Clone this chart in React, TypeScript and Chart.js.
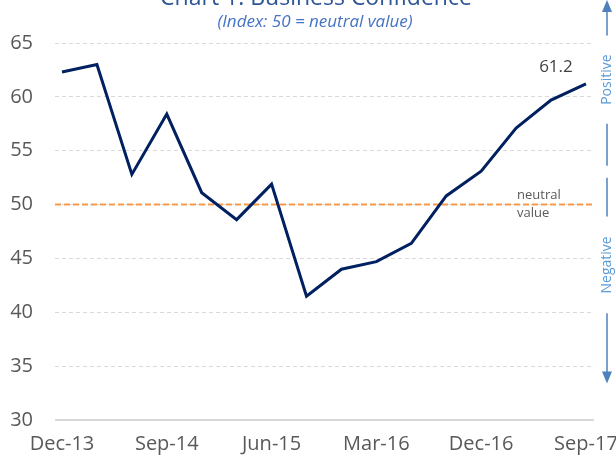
import React, { useEffect, useRef } from "react";
import { Chart, registerables } from "chart.js";

Chart.register(...registerables);

const categories = ["Dec-13", "Mar-14", "Jun-14", "Sep-14", "Dec-14", "Mar-15", "Jun-15", "Sep-15", "Dec-15", "Mar-16", "Jun-16", "Sep-16", "Dec-16", "Mar-17", "Jun-17", "Sep-17"];
const confidence = [62.3, 63.0, 52.8, 58.4, 51.1, 48.6, 51.9, 41.5, 44.0, 44.7, 46.4, 50.8, 53.1, 57.1, 59.7, 61.2];
const xTickIndexes = [0, 3, 6, 9, 12, 15];
const yTicks = [30, 35, 40, 45, 50, 55, 60, 65];
const neutralValue = 50;
const titleText = "Chart 1: Business Confidence";
const subtitleText = "(Index: 50 = neutral value)";

const FONT = "'Open Sans', 'Noto Sans', sans-serif";

const decorPlugin = {
  id: "decor",
  beforeDatasetsDraw(chart: any) {
    const { ctx, chartArea, scales } = chart;
    const ys = scales.y;
    ctx.save();
    const by = ys.getPixelForValue(ys.min);
    ctx.strokeStyle = "#D9D9D9";
    ctx.lineWidth = 2;
    ctx.beginPath();
    ctx.moveTo(chartArea.left, by);
    ctx.lineTo(chartArea.right, by);
    ctx.stroke();
    const y = ys.getPixelForValue(neutralValue);
    ctx.strokeStyle = "#F59A4A";
    ctx.lineWidth = 2;
    ctx.setLineDash([6, 3]);
    ctx.beginPath();
    ctx.moveTo(chartArea.left, y);
    ctx.lineTo(chartArea.right, y);
    ctx.stroke();
    ctx.restore();
  },
  afterDraw(chart: any) {
    const { ctx, chartArea, scales } = chart;
    const xs = scales.x;
    const ys = scales.y;
    ctx.save();
    ctx.fillStyle = "#2F5597";
    ctx.textAlign = "center";
    ctx.textBaseline = "alphabetic";
    ctx.font = `23px ${FONT}`;
    ctx.fillText(titleText, 316, 5);
    ctx.font = `italic 17px ${FONT}`;
    ctx.fillStyle = "#4472C4";
    ctx.textBaseline = "middle";
    ctx.fillText(subtitleText, 315, 22);

    const ny = ys.getPixelForValue(neutralValue);
    const nx = xs.getPixelForValue(13) + 1;
    ctx.fillStyle = "#595959";
    ctx.font = `13px ${FONT}`;
    ctx.textAlign = "left";
    ctx.fillText("neutral", nx, ny - 9);
    ctx.fillText("value", nx, ny + 9);

    const last = confidence.length - 1;
    const lx = xs.getPixelForValue(last);
    const ly = ys.getPixelForValue(confidence[last]);
    ctx.fillStyle = "#404040";
    ctx.font = `17px ${FONT}`;
    ctx.textAlign = "center";
    ctx.fillText(confidence[last].toFixed(1), lx - 30, ly - 17);

    const ax = chartArea.right + 13;
    ctx.strokeStyle = "#4F81BD";
    ctx.fillStyle = "#4F81BD";
    ctx.lineWidth = 1.5;
    ctx.setLineDash([]);
    const upTop = 0;
    const upBottom = ys.getPixelForValue(53.6);
    const posTextTop = ys.getPixelForValue(65.7);
    const posTextBottom = ys.getPixelForValue(57.5);
    ctx.beginPath();
    ctx.moveTo(ax, upTop + 11);
    ctx.lineTo(ax, posTextTop);
    ctx.moveTo(ax, posTextBottom);
    ctx.lineTo(ax, upBottom);
    ctx.stroke();
    ctx.beginPath();
    ctx.moveTo(ax, upTop);
    ctx.lineTo(ax - 5, upTop + 12);
    ctx.lineTo(ax + 5, upTop + 12);
    ctx.closePath();
    ctx.fill();

    const dnTop = ys.getPixelForValue(52.5);
    const dnBottom = ys.getPixelForValue(33.4);
    const negTextTop = ys.getPixelForValue(48.9);
    const negTextBottom = ys.getPixelForValue(39.9);
    ctx.beginPath();
    ctx.moveTo(ax, dnTop);
    ctx.lineTo(ax, negTextTop);
    ctx.moveTo(ax, negTextBottom);
    ctx.lineTo(ax, dnBottom - 11);
    ctx.stroke();
    ctx.beginPath();
    ctx.moveTo(ax, dnBottom);
    ctx.lineTo(ax - 5, dnBottom - 12);
    ctx.lineTo(ax + 5, dnBottom - 12);
    ctx.closePath();
    ctx.fill();

    ctx.fillStyle = "#5B9BD5";
    ctx.font = `14px ${FONT}`;
    ctx.textAlign = "center";
    ctx.textBaseline = "middle";
    ctx.save();
    ctx.translate(ax, (posTextTop + posTextBottom) / 2);
    ctx.rotate(-Math.PI / 2);
    ctx.fillText("Positive", 0, 0);
    ctx.restore();
    ctx.save();
    ctx.translate(ax, (negTextTop + negTextBottom) / 2);
    ctx.rotate(-Math.PI / 2);
    ctx.fillText("Negative", 0, 0);
    ctx.restore();

    ctx.restore();
  },
};

export default function App() {
  const ref = useRef<HTMLCanvasElement>(null);
  useEffect(() => {
    if (!ref.current) return;
    const chart = new Chart(ref.current, {
      type: "line",
      data: {
        datasets: [
          {
            label: "Business Confidence",
            data: confidence.map((v, i) => ({ x: i, y: v })),
            borderColor: "#002060",
            borderWidth: 3,
            pointRadius: 0,
            tension: 0,
            fill: false,
          },
        ],
      },
      options: {
        animation: false,
        responsive: false,
        maintainAspectRatio: false,
        layout: { padding: { top: 43, right: 22, left: 0, bottom: 0 } },
        plugins: {
          legend: { display: false },
          tooltip: { enabled: false },
          title: { display: false },
        },
        scales: {
          x: {
            type: "linear",
            min: -0.2,
            max: 15.23,
            grid: { display: false, drawTicks: false },
            border: { display: false },
            afterBuildTicks: (scale: any) => {
              scale.ticks = xTickIndexes.map((v) => ({ value: v }));
            },
            afterFit: (scale: any) => {
              scale.height = 39;
              scale.paddingLeft = 0;
              scale.paddingRight = 0;
            },
            ticks: {
              autoSkip: false,
              maxRotation: 0,
              padding: 12,
              color: "#595959",
              font: { family: FONT, size: 20 },
              callback: (v: any) => categories[v as number] ?? "",
            },
          },
          y: {
            min: 30,
            max: 65,
            afterBuildTicks: (scale: any) => {
              scale.ticks = yTicks.map((v) => ({ value: v }));
            },
            afterFit: (scale: any) => {
              scale.width = 55;
              scale.paddingTop = 0;
              scale.paddingBottom = 0;
            },
            border: { display: false, dash: [4, 3] },
            grid: {
              drawTicks: false,
              color: (ctx: any) => (ctx.tick && ctx.tick.value === 30 ? "rgba(0,0,0,0)" : "#D9D9D9"),
              lineWidth: 1,
            },
            ticks: {
              padding: 22,
              color: "#595959",
              font: { family: FONT, size: 20 },
            },
          },
        },
      },
      plugins: [decorPlugin],
    });
    return () => chart.destroy();
  }, []);
  return (
    <div style={{ position: "absolute", left: 0, top: 0, width: 616, height: 459 }}>
      <canvas ref={ref} width={616} height={459} style={{ width: 616, height: 459, display: "block" }} />
    </div>
  );
}
